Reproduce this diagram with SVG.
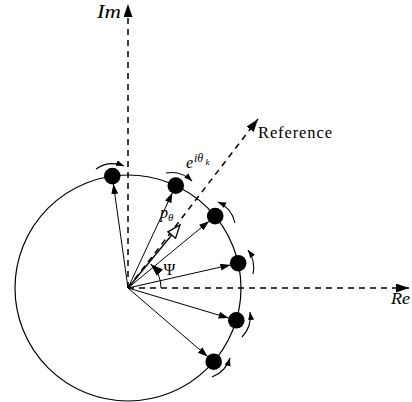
<svg xmlns="http://www.w3.org/2000/svg" width="412" height="402" viewBox="0 0 412 402">
<style>
.dash{fill:none;stroke:#000;stroke-width:1.5;stroke-dasharray:6,5}
.vec{fill:none;stroke:#000;stroke-width:1}
.rot{fill:none;stroke:#000;stroke-width:1.1}
.dot{fill:#000}
.lbl{font-family:"Liberation Serif","DejaVu Serif",serif;fill:#000}
.it{font-style:italic}
</style>
<defs>
<marker id="ah" markerUnits="userSpaceOnUse" markerWidth="10" markerHeight="8" refX="10" refY="3.5" orient="auto">
<path d="M0,0 L10,3.5 L0,7 z" fill="#000"/>
</marker>
<marker id="ahs" markerUnits="userSpaceOnUse" markerWidth="9" markerHeight="7" refX="8" refY="3" orient="auto">
<path d="M0,0 L8,3 L0,6 z" fill="#000"/>
</marker>
<marker id="ahb" markerUnits="userSpaceOnUse" markerWidth="14" markerHeight="10" refX="13" refY="4.5" orient="auto">
<path d="M0,0 L13,4.5 L0,9 z" fill="#000"/>
</marker>
<marker id="aho" markerUnits="userSpaceOnUse" markerWidth="16" markerHeight="14" refX="14" refY="6" orient="auto">
<path d="M1,1 L14,6 L1,11 z" fill="#fff" stroke="#000" stroke-width="1.3"/>
</marker>
</defs>
<g id="axes">
<line class="dash" x1="128" y1="288" x2="128" y2="4" marker-end="url(#ahb)"/>
<line class="dash" x1="128" y1="288" x2="409" y2="288" marker-end="url(#ahb)"/>
<line class="dash" x1="128" y1="288" x2="258" y2="119" marker-end="url(#ahb)"/>
<text class="lbl it" x="97" y="18" font-size="19" textLength="24" lengthAdjust="spacingAndGlyphs">Im</text>
<text class="lbl it" x="391" y="304" font-size="17" textLength="19" lengthAdjust="spacingAndGlyphs">Re</text>
<text class="lbl" x="258" y="138" font-size="16.5" textLength="74">Reference</text>
</g>
<g id="circle">
<circle cx="128" cy="288" r="113" fill="none" stroke="#000" stroke-width="1.2"/>
</g>
<g id="connectors">
<line class="vec" x1="128" y1="288" x2="113.4" y2="184.0" marker-end="url(#ah)"/>
<line class="vec" x1="128" y1="288" x2="172.4" y2="192.8" marker-end="url(#ah)"/>
<line class="vec" x1="128" y1="288" x2="209.0" y2="221.2" marker-end="url(#ah)"/>
<line class="vec" x1="128" y1="288" x2="230.4" y2="264.9" marker-end="url(#ah)"/>
<line class="vec" x1="128" y1="288" x2="228.6" y2="318.0" marker-end="url(#ah)"/>
<line class="vec" x1="128" y1="288" x2="207.6" y2="356.5" marker-end="url(#ah)"/>
<line x1="128" y1="288" x2="180" y2="225" stroke="#000" stroke-width="1.3" marker-end="url(#aho)"/>
<path class="vec" d="M161,288 A33,33 0 0 0 150.5,263.9" marker-end="url(#ahb)"/>
<path class="rot" d="M96,169 A30,30 0 0 1 124,166" marker-end="url(#ahs)"/>
<path class="rot" d="M166,173 A30,30 0 0 1 192,181" marker-end="url(#ahs)"/>
<path class="rot" d="M235,223 A30,30 0 0 0 218,202" marker-end="url(#ahs)"/>
<path class="rot" d="M253,274 A30,30 0 0 0 248,250" marker-end="url(#ahs)"/>
<path class="rot" d="M242,337 A30,30 0 0 0 250,312" marker-end="url(#ahs)"/>
<path class="rot" d="M212,377 A30,30 0 0 0 230,358" marker-end="url(#ahs)"/>
</g>
<g id="p1"><circle class="dot" cx="112.3" cy="176.1" r="8.3"/></g>
<g id="p2"><circle class="dot" cx="175.8" cy="185.6" r="8.3"/></g>
<g id="p3"><circle class="dot" cx="215.2" cy="216.1" r="8.3"/></g>
<g id="p4"><circle class="dot" cx="238.2" cy="263.2" r="8.3"/></g>
<g id="p5"><circle class="dot" cx="236.3" cy="320.3" r="8.3"/></g>
<g id="p6"><circle class="dot" cx="213.7" cy="361.7" r="8.3"/></g>
<g id="labels">
<text class="lbl it" x="186" y="168" font-size="16">e</text>
<text class="lbl it" x="194" y="162" font-size="12">iθ</text>
<text class="lbl it" x="205.5" y="165" font-size="9">k</text>
<text class="lbl it" x="160" y="218" font-size="16">p</text>
<text class="lbl it" x="168" y="221" font-size="11">θ</text>
<text class="lbl" x="163.5" y="275" font-size="16">Ψ</text>
</g>
</svg>
